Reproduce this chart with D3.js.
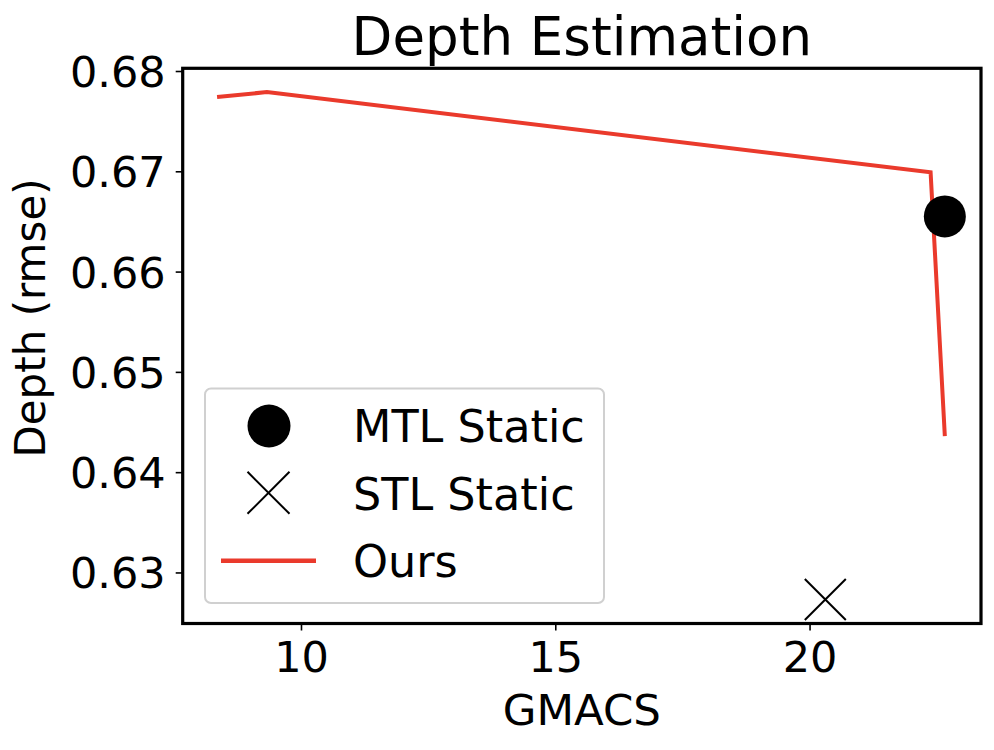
<!DOCTYPE html>
<html>
<head>
<meta charset="utf-8">
<script src="https://cdn.jsdelivr.net/npm/d3@7"></script>
<style>
  html, body { margin: 0; padding: 0; background: #fff; }
  text { font-family: "DejaVu Sans", sans-serif; fill: #000; }
</style>
</head>
<body>
<svg id="chart" width="994" height="750"></svg>
<script>
const width = 994, height = 750;

// data
const oursX = [8.35, 9.33, 22.38, 22.66];
const oursY = [0.6774, 0.6779, 0.6699, 0.6436];
const mtlX = [22.66], mtlY = [0.6655];
const stlX = [20.31], stlY = [0.6273];
const xTicks = [10, 15, 20];
const yTicks = [0.63, 0.64, 0.65, 0.66, 0.67, 0.68];
const lineColor = "#ea3a2c";

const plot = { left: 182.7, right: 981, top: 68.3, bottom: 623.5 };

const svg = d3.select("#chart");

const x = d3.scaleLinear().domain([7.674, 23.371]).range([plot.left, plot.right]);
const y = d3.scaleLinear().domain([0.62491, 0.68027]).range([plot.bottom, plot.top]);

// axes
const xAxis = svg.append("g")
    .attr("transform", `translate(0,${plot.bottom})`)
    .call(d3.axisBottom(x).tickValues(xTicks).tickSize(7).tickPadding(11).tickFormat(d3.format("d")));
const yAxis = svg.append("g")
    .attr("transform", `translate(${plot.left},0)`)
    .call(d3.axisLeft(y).tickValues(yTicks).tickSize(7).tickPadding(10).tickFormat(d3.format(".2f")));

[xAxis, yAxis].forEach(a => {
    a.select(".domain").remove();
    a.selectAll(".tick line").attr("stroke", "#000").attr("stroke-width", 1.6);
    a.selectAll(".tick text").attr("font-size", 43).attr("font-family", "DejaVu Sans");
});
yAxis.selectAll(".tick text").attr("dy", "0.36em");
xAxis.selectAll(".tick text").attr("dy", "0.72em");

// line "Ours"
const pts = oursX.map((v, i) => [v, oursY[i]]);
svg.append("path")
    .datum(pts)
    .attr("fill", "none")
    .attr("stroke", lineColor)
    .attr("stroke-width", 4)
    .attr("d", d3.line().x(d => x(d[0])).y(d => y(d[1])));

// MTL static
svg.selectAll(".mtl")
    .data(mtlX.map((v, i) => [v, mtlY[i]]))
    .join("circle")
    .attr("class", "mtl")
    .attr("cx", d => x(d[0]))
    .attr("cy", d => y(d[1]))
    .attr("r", 21)
    .attr("fill", "#000");

// STL static
const xMark = (cx, cy, h) => `M${cx - h},${cy - h}L${cx + h},${cy + h}M${cx - h},${cy + h}L${cx + h},${cy - h}`;
svg.selectAll(".stl")
    .data(stlX.map((v, i) => [v, stlY[i]]))
    .join("path")
    .attr("class", "stl")
    .attr("d", d => xMark(x(d[0]), y(d[1]), 20.5))
    .attr("stroke", "#000")
    .attr("stroke-width", 2)
    .attr("fill", "none");

// spines
svg.append("rect")
    .attr("x", plot.left).attr("y", plot.top)
    .attr("width", plot.right - plot.left).attr("height", plot.bottom - plot.top)
    .attr("fill", "none").attr("stroke", "#000").attr("stroke-width", 3.2);

// legend
const leg = svg.append("g");
leg.append("rect")
    .attr("x", 205).attr("y", 388.5).attr("width", 399).attr("height", 214.5)
    .attr("rx", 6).attr("fill", "#fff").attr("fill-opacity", 0.85)
    .attr("stroke", "#d0d0d0").attr("stroke-width", 2);
leg.append("circle").attr("cx", 269).attr("cy", 426).attr("r", 21.5).attr("fill", "#000");
leg.append("path").attr("d", xMark(268.5, 492.8, 21)).attr("stroke", "#000").attr("stroke-width", 2);
leg.append("line").attr("x1", 221).attr("x2", 316).attr("y1", 560.8).attr("y2", 560.8)
    .attr("stroke", lineColor).attr("stroke-width", 4.5);
const legLabels = ["MTL Static", "STL Static", "Ours"];
const legBase = [442.3, 509.6, 577];
leg.selectAll(".lt").data(legLabels).join("text")
    .attr("class", "lt")
    .attr("x", 353).attr("y", (d, i) => legBase[i])
    .attr("font-size", 44.5)
    .text(d => d);

// titles
svg.append("text")
    .attr("x", (plot.left + plot.right) / 2).attr("y", 55)
    .attr("text-anchor", "middle").attr("font-size", 53)
    .text("Depth Estimation");
svg.append("text")
    .attr("x", (plot.left + plot.right) / 2).attr("y", 725)
    .attr("text-anchor", "middle").attr("font-size", 43.5)
    .text("GMACS");
svg.append("text")
    .attr("transform", "translate(45,318) rotate(-90)")
    .attr("text-anchor", "middle").attr("font-size", 42)
    .text("Depth (rmse)");
</script>
</body>
</html>
